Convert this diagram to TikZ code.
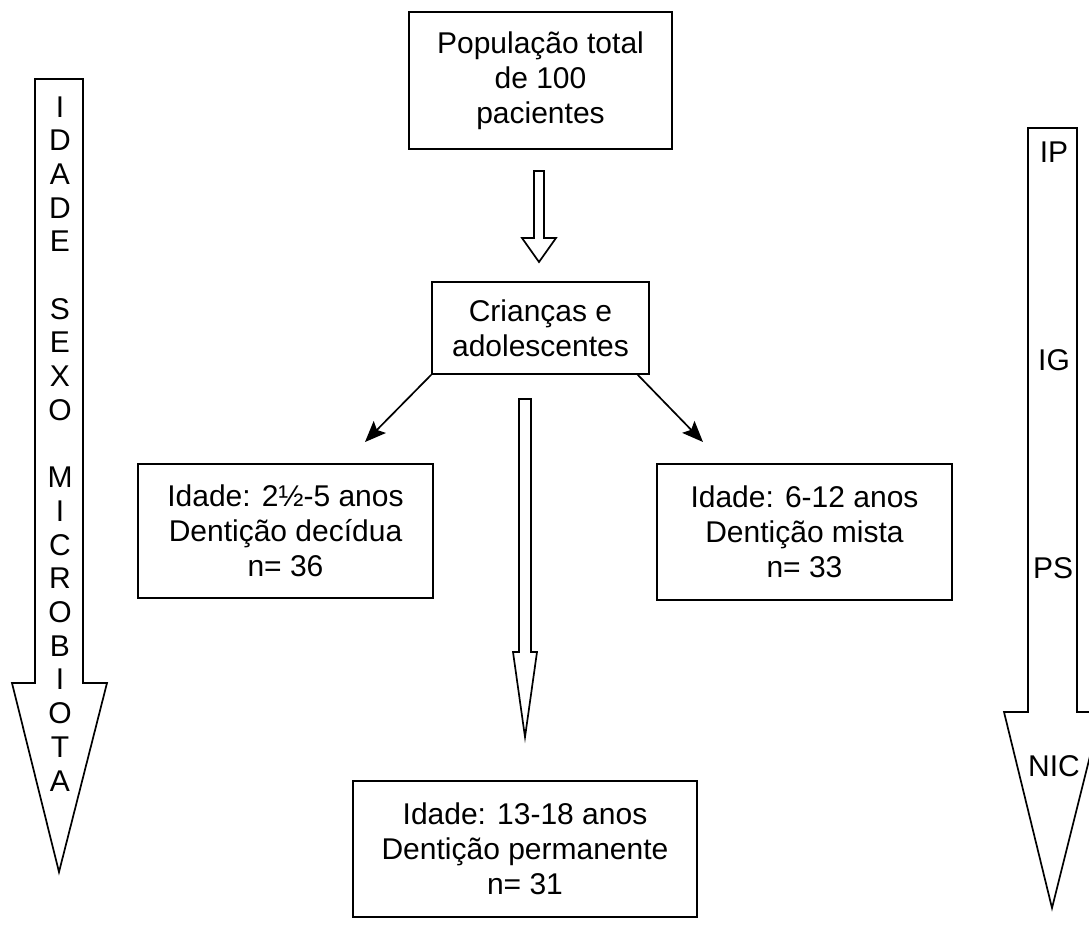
\documentclass[tikz,border=0pt]{standalone}
\usepackage{fontspec}
\setmainfont{Liberation Sans}
\usetikzlibrary{arrows.meta}
\begin{document}
\begin{tikzpicture}[x=1pt,y=-1pt,
  every node/.style={font=\fontsize{30}{35}\selectfont, inner sep=0pt},
  box/.style={draw, line width=1.7pt, align=center},
  hollow/.style={draw, line width=1.7pt, line join=miter, fill=white},
  thinarrow/.style={line width=1.7pt, -{Stealth[length=21pt,width=17pt,inset=4pt]}},
  letter/.style={anchor=center}]
\useasboundingbox (0,0) rectangle (1089,932);

% block arrows
\draw[hollow] (35,79) -- (83,79) -- (83,683) -- (107,683) -- (59,872) -- (12,683) -- (35,683) -- cycle;
\draw[hollow] (1028,128) -- (1077,128) -- (1077,712) -- (1101,712) -- (1052,908) -- (1004,712) -- (1028,712) -- cycle;
\draw[hollow] (534,171) -- (544,171) -- (544,238) -- (556,238) -- (539,262) -- (522,238) -- (534,238) -- cycle;
\draw[hollow] (519,399) -- (531,399) -- (531,652) -- (537,652) -- (525,737) -- (513,652) -- (519,652) -- cycle;

% letters of the left arrow
\foreach \l [count=\i] in {I,D,A,D,E,{},S,E,X,O,{},M,I,C,R,O,B,I,O,T,A}
  \node[letter] (L\i) at (60,{110+(\i-1)*33.7}) {\strut\l};

% labels of the right arrow
\node (ip) at (1054,152) {IP};
\node (ig) at (1054,360) {IG};
\node (ps) at (1053,568) {PS};
\node (nic) at (1054,766) {NIC};

% boxes
\node[box, minimum width=263pt, minimum height=137pt] (pop) at (540.5,80.5)
  {População total\\de 100\\pacientes};
\node[box, minimum width=217pt, minimum height=92pt] (cri) at (540.5,328)
  {Crianças e\\adolescentes};
\node[box, minimum width=295pt, minimum height=134pt] (dec) at (285.5,531)
  {Idade: 2½-5 anos\\Dentição decídua\\n= 36};
\node[box, minimum width=295pt, minimum height=136pt] (mis) at (804.5,532)
  {Idade: 6-12 anos\\Dentição mista\\n= 33};
\node[box, minimum width=344pt, minimum height=136pt] (per) at (525,849)
  {Idade: 13-18 anos\\Dentição permanente\\n= 31};

% thin arrows
\coordinate (lt) at (365,442);
\coordinate (rt) at (703,442);
\coordinate (rs) at (637,374);
\draw[thinarrow] (cri.south west) -- (lt);
\draw[thinarrow] (rs) -- (rt);
\end{tikzpicture}
\end{document}
